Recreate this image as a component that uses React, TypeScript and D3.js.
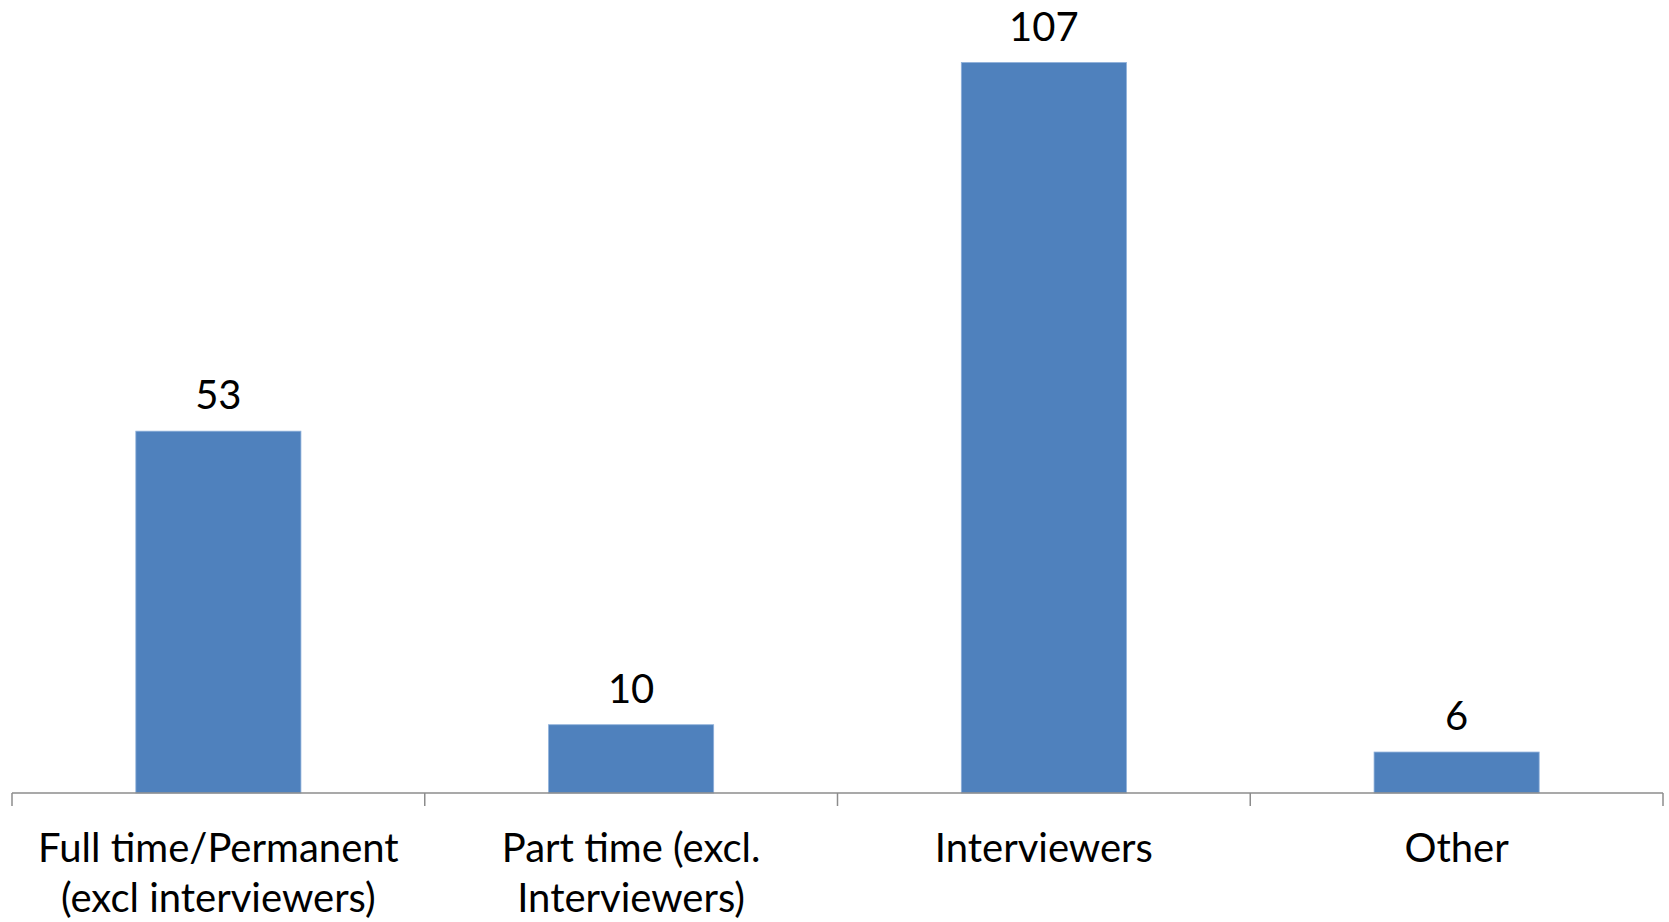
import React from "react";
import * as d3 from "d3";

// Staff headcount by employment type
const categories: string[][] = [
  ["Full time/Permanent", "(excl interviewers)"],
  ["Part time (excl.", "Interviewers)"],
  ["Interviewers"],
  ["Other"],
];
const values: number[] = [53, 10, 107, 6];

const W = 1669;
const H = 922;
const axisY = 793;
const left = 12;
const right = 1663;
const FONT = "Lato, 'Open Sans', sans-serif";

export default function App() {
  const keys = categories.map((_, i) => String(i));
  const x = d3.scaleBand<string>().domain(keys).range([left, right]).paddingInner(0.6).paddingOuter(0.3);
  const y = d3.scaleLinear().domain([0, 107]).range([axisY, 62.5]);
  const step = x.step();
  const boundaries = d3.range(keys.length + 1).map((i) => left + i * step);

  return (
    <svg
      width={W}
      height={H}
      style={{ position: "absolute", left: 0, top: 0, background: "#ffffff" }}
      fontFamily={FONT}
    >
      {values.map((v, i) => {
        const bx = x(String(i))!;
        return (
          <g key={i}>
            <rect
              x={bx}
              y={y(v)}
              width={x.bandwidth()}
              height={axisY - y(v)}
              fill="#4F81BD"
              stroke="#8EB0DA"
              strokeWidth={0.8}
            />
            <text
              x={bx + x.bandwidth() / 2}
              y={y(v) - 22}
              textAnchor="middle"
              fontSize={40}
              fill="#000"
            >
              {v}
            </text>
          </g>
        );
      })}
      <line x1={left} x2={right} y1={axisY} y2={axisY} stroke="#8c8c8c" strokeWidth={1.5} />
      {boundaries.map((bx, i) => (
        <line key={i} x1={bx} x2={bx} y1={axisY} y2={axisY + 13} stroke="#8c8c8c" strokeWidth={1.5} />
      ))}
      {categories.map((lines, i) => (
        <text
          key={i}
          x={x(String(i))! + x.bandwidth() / 2}
          y={862}
          textAnchor="middle"
          fontSize={40}
          fill="#000"
        >
          {lines.map((ln, j) => (
            <tspan key={j} x={x(String(i))! + x.bandwidth() / 2} dy={j === 0 ? 0 : 50}>
              {ln}
            </tspan>
          ))}
        </text>
      ))}
    </svg>
  );
}
